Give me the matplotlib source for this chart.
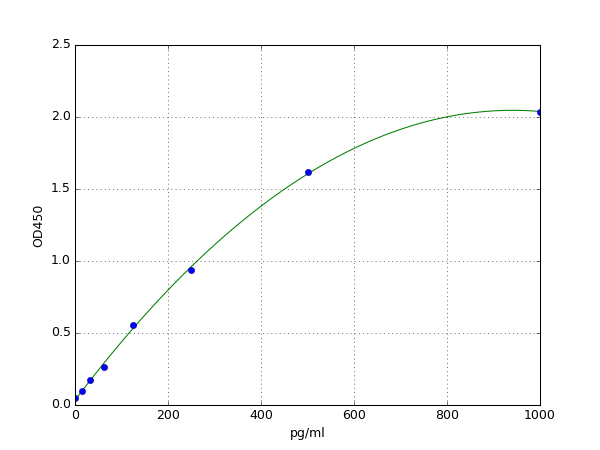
import numpy as np
import matplotlib
matplotlib.use("Agg")
import matplotlib.pyplot as plt

conc = [0, 15.6, 31.25, 62.5, 125, 250, 500, 1000]
od450 = [0.048, 0.097, 0.173, 0.263, 0.554, 0.935, 1.62, 2.036]
xlabel = "pg/ml"
ylabel = "OD450"

plt.style.use("classic")
fig = plt.figure(figsize=(8, 6), dpi=75, facecolor="white")
ax = fig.add_subplot(111)

coef = np.polyfit(conc, od450, 2)
xs = np.linspace(0, 1000, 300)
ax.plot(xs, np.polyval(coef, xs), color="green", lw=1)
ax.plot(conc, od450, "o", color="blue", markeredgecolor="navy", markersize=6)

ax.set_xlim(0, 1000)
ax.set_ylim(0, 2.5)
ax.set_xlabel(xlabel)
ax.set_ylabel(ylabel)
ax.grid(True, color="black", linestyle=":")
fig.savefig("out.png", dpi=75, facecolor="white")
